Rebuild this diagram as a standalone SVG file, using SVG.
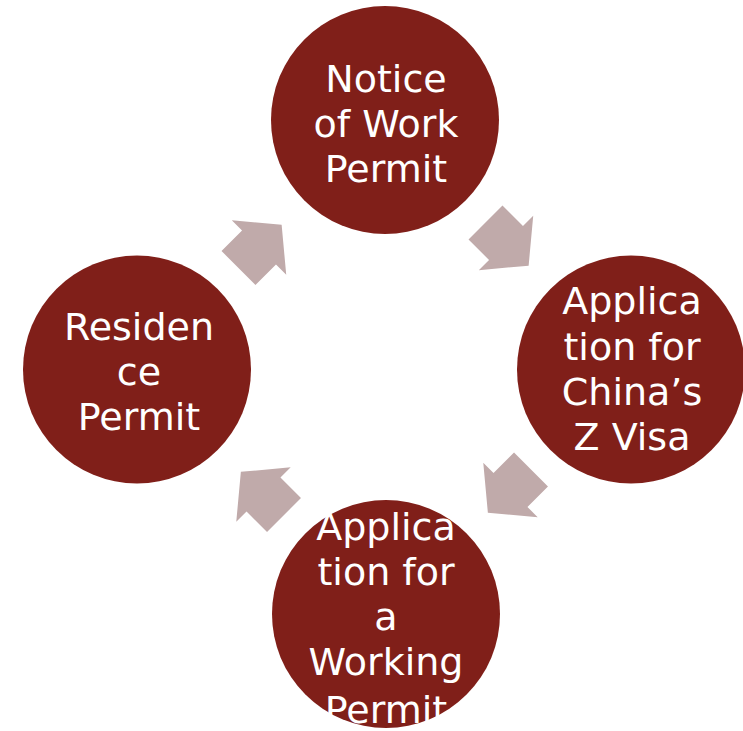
<svg xmlns="http://www.w3.org/2000/svg" width="743" height="731" viewBox="0 0 743 731">
<style>
.node{fill:#801F19}
.lbl{fill:#FFFFFF;font-family:"DejaVu Sans","Noto Sans",sans-serif;font-size:38px;text-anchor:middle}
.arr{fill:#C0AAAA}
</style>
<defs>
<path id="blk" d="M0,-24 L29,-24 L29,-38.5 L61,0 L29,38.5 L29,24 L0,24 Z"/>
</defs>
<rect width="743" height="731" fill="#FFFFFF"/>
<g id="connectors">
<use href="#blk" class="arr" transform="translate(238.5,268) rotate(-45)"/>
<use href="#blk" class="arr" transform="translate(485.5,222.5) rotate(45)"/>
<use href="#blk" class="arr" transform="translate(531,469.5) rotate(135)"/>
<use href="#blk" class="arr" transform="translate(284,515) rotate(225)"/>
</g>
<g id="node-notice">
<circle class="node" cx="385" cy="120" r="114"/>
<text class="lbl" x="386"><tspan x="386" y="92">Notice</tspan><tspan x="386" y="137">of Work</tspan><tspan x="386" y="182">Permit</tspan></text>
</g>
<g id="node-zvisa">
<circle class="node" cx="631" cy="369.5" r="114"/>
<text class="lbl"><tspan x="632" y="314">Applica</tspan><tspan x="632" y="360">tion for</tspan><tspan x="632" y="405">China’s</tspan><tspan x="632" y="450">Z Visa</tspan></text>
</g>
<g id="node-working">
<circle class="node" cx="386" cy="614" r="114"/>
<text class="lbl"><tspan x="386" y="540">Applica</tspan><tspan x="386" y="585">tion for</tspan><tspan x="386" y="630">a</tspan><tspan x="386" y="675">Working</tspan><tspan x="386" y="723">Permit</tspan></text>
</g>
<g id="node-residence">
<circle class="node" cx="137" cy="369.5" r="114"/>
<text class="lbl"><tspan x="139" y="340">Residen</tspan><tspan x="139" y="385">ce</tspan><tspan x="139" y="430">Permit</tspan></text>
</g>
</svg>
